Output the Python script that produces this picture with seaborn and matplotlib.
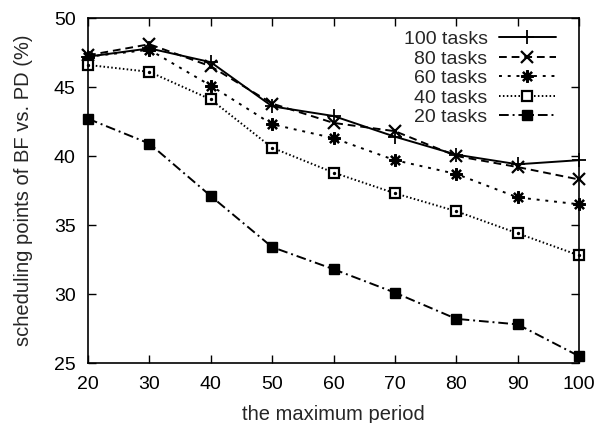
import matplotlib
matplotlib.use("Agg")
import matplotlib.pyplot as plt
import seaborn as sns
import pandas as pd

# -------------------------
# data
# -------------------------
periods = [20, 30, 40, 50, 60, 70, 80, 90, 100]
tasks_100 = [47.2, 47.8, 46.8, 43.6, 42.9, 41.4, 40.1, 39.4, 39.7]
tasks_80 = [47.3, 48.1, 46.5, 43.8, 42.4, 41.8, 40.0, 39.2, 38.3]
tasks_60 = [47.2, 47.7, 45.1, 42.3, 41.3, 39.7, 38.7, 37.0, 36.5]
tasks_40 = [46.6, 46.1, 44.1, 40.6, 38.8, 37.3, 36.0, 34.4, 32.8]
tasks_20 = [42.7, 40.9, 37.1, 33.4, 31.8, 30.1, 28.2, 27.8, 25.5]
labels = ["100 tasks", "80 tasks", "60 tasks", "40 tasks", "20 tasks"]

sns.set_style("ticks")
plt.rcParams["font.family"] = ["Liberation Sans", "DejaVu Sans"]
plt.rcParams["xtick.direction"] = "in"
plt.rcParams["ytick.direction"] = "in"

fig = plt.figure(figsize=(6.0, 4.23), dpi=100)
ax = fig.add_axes([0.1467, 0.1418, 0.8183, 0.8156])

styles = [
    dict(ls="-", marker="+", ms=10, mew=1.3, mfc="black"),
    dict(ls=(0, (4, 2.5)), marker="x", ms=8, mew=1.6, mfc="black"),
    dict(ls=(0, (1.5, 3)), marker=(8, 2, 0), ms=9, mew=1.6, mfc="black"),
    dict(ls=(0, (0.8, 1.2)), marker="s", ms=7, mew=1.6, mfc="white"),
    dict(ls=(0, (5, 2, 1, 2)), marker="s", ms=7, mew=1.0, mfc="black"),
]
series = [tasks_100, tasks_80, tasks_60, tasks_40, tasks_20]

for vals, lab, st in zip(series, labels, styles):
    df = pd.DataFrame({"period": periods, "value": vals})
    sns.lineplot(data=df, x="period", y="value", ax=ax, color="black",
                 lw=1.4, linestyle=st["ls"], marker=st["marker"],
                 markersize=st["ms"], markeredgewidth=st["mew"],
                 markerfacecolor=st["mfc"], markeredgecolor="black",
                 label=lab, clip_on=False)

# small centre dots on the open squares (gnuplot style)
ax.scatter(periods, tasks_40, s=2, color="black", zorder=5, clip_on=False)

ax.set_xlim(20, 100)
ax.set_ylim(25, 50)
ax.set_xticks(periods)
ax.set_yticks([25, 30, 35, 40, 45, 50])
ax.tick_params(axis="both", which="both", top=True, right=True, length=6,
               width=1, labelsize=14, colors="black")
ax.tick_params(axis="x", pad=9)
ax.tick_params(axis="y", pad=9)
for sp in ax.spines.values():
    sp.set_visible(True)
    sp.set_linewidth(1.2)
    sp.set_color("black")

ax.set_xlabel("the maximum period", fontsize=14.5)
ax.set_ylabel("scheduling points of BF vs. PD (%)", fontsize=14.5)
ax.xaxis.set_label_coords(0.5, -0.122)
ax.yaxis.set_label_coords(-0.112, 0.5)

leg = ax.legend(loc="upper right", bbox_to_anchor=(0.984, 1.009),
                frameon=False, markerfirst=False,
                fontsize=14, handlelength=2.9, labelspacing=0.1,
                borderaxespad=0.5, handletextpad=0.6, borderpad=0.3)

fig.savefig("out.png", dpi=100)
